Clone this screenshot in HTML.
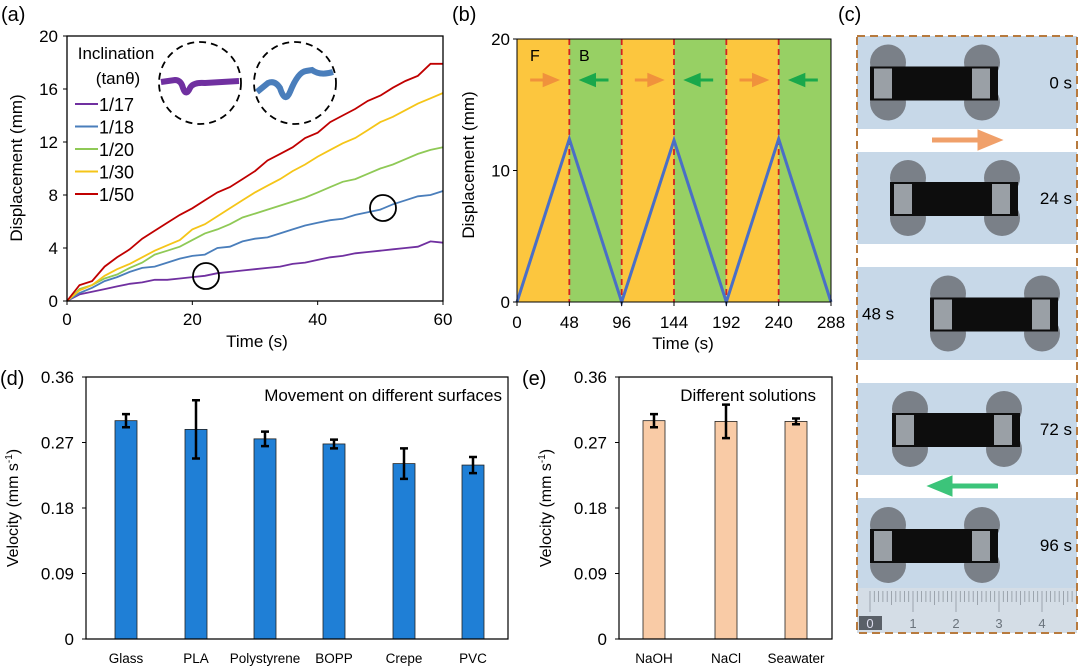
<!DOCTYPE html>
<html><head><meta charset="utf-8"><style>
html,body{margin:0;padding:0;background:#fff;}
svg{display:block;font-family:"Liberation Sans",Arial,sans-serif;}
</style></head><body>
<svg id="fig" width="1080" height="672" viewBox="0 0 1080 672" xmlns="http://www.w3.org/2000/svg">
<g id="pa"></g>
<g id="pb"></g>
<g id="pc"></g>
<g id="pd"></g>
<g id="pe"></g>
</svg>
<script>
// ---- Panel (a) data ----
const aTimes = [0,2,4,6,8,10,12,14,16,18,20,22,24,26,28,30,32,34,36,38,40,42,44,46,48,50,52,54,56,58,60];
const a117 = [0,0.5,0.7,0.9,1.1,1.3,1.4,1.6,1.6,1.7,1.8,1.9,2.1,2.2,2.3,2.4,2.5,2.6,2.8,2.9,3.1,3.3,3.4,3.6,3.7,3.8,3.9,4.0,4.1,4.5,4.4];
const a118 = [0,0.6,1.0,1.5,1.8,2.2,2.5,2.6,2.9,3.2,3.4,3.5,4.0,4.1,4.5,4.7,4.8,5.1,5.4,5.7,5.9,6.1,6.2,6.5,6.7,6.9,7.3,7.6,7.9,8.0,8.3];
const a120 = [0,0.9,1.2,1.7,2.0,2.5,2.9,3.5,3.8,4.1,4.6,5.1,5.4,5.8,6.3,6.6,6.9,7.2,7.5,7.8,8.2,8.6,9.0,9.2,9.6,10.0,10.3,10.7,11.1,11.4,11.6];
const a130 = [0,0.8,1.2,1.9,2.4,2.8,3.3,3.8,4.2,4.6,5.4,5.8,6.4,7.0,7.6,8.2,8.7,9.2,9.8,10.3,10.9,11.4,11.9,12.3,12.9,13.5,13.9,14.4,14.9,15.3,15.7];
const a150 = [0,1.2,1.5,2.6,3.3,3.9,4.7,5.3,5.9,6.5,7.0,7.6,8.2,8.6,9.2,9.8,10.6,11.1,11.6,12.3,12.7,13.5,14.0,14.5,15.1,15.5,16.1,16.6,17.0,17.9,17.9];
const aLabels = ["1/17","1/18","1/20","1/30","1/50"];
const aXTicks = [0,20,40,60];
const aYTicks = [0,4,8,12,16,20];
// ---- Panel (b) data ----
const bTimes = [0,48,96,144,192,240,288];
const bDisp = [0,12.4,0,12.3,0,12.4,0];
const bXTicks = [0,48,96,144,192,240,288];
const bYTicks = [0,10,20];
// ---- Panel (d) data ----
const dCats = ["Glass","PLA","Polystyrene","BOPP","Crepe","PVC"];
const dVals = [0.300,0.288,0.275,0.268,0.241,0.239];
const dErrs = [0.009,0.040,0.010,0.006,0.021,0.011];
const vTicks = [0,0.09,0.18,0.27,0.36];
const vTickLabels = ["0","0.09","0.18","0.27","0.36"];
// ---- Panel (e) data ----
const eCats = ["NaOH","NaCl","Seawater"];
const eVals = [0.300,0.299,0.299];
const eErrs = [0.009,0.023,0.004];

const NS="http://www.w3.org/2000/svg";
function mk(parent,tag,attrs,text){const e=document.createElementNS(NS,tag);for(const k in attrs)e.setAttribute(k,attrs[k]);if(text!==undefined)e.textContent=text;parent.appendChild(e);return e;}
function lin(d0,d1,r0,r1){return v=>r0+(v-d0)/(d1-d0)*(r1-r0);}

// ===== Panel A =====
(function(){
const g=document.getElementById('pa');
const X=lin(0,60,67,443),Y=lin(0,20,301,36);
let t=mk(g,'text',{x:1,y:21,'font-size':20});t.textContent='(a)';


const colors=["#7030a0","#4a7ebb","#8fc956","#f5c518","#c00000"];
const series=[a117,a118,a120,a130,a150];
series.forEach((s,i)=>{
  const pts=s.map((v,j)=>X(aTimes[j]).toFixed(1)+','+Y(v).toFixed(1)).join(' ');
  const p=mk(g,'polyline',{points:pts,fill:'none',stroke:colors[i],'stroke-width':1.8});
  
  
});
const fr=mk(g,'rect',{x:67,y:36,width:376,height:265,fill:'none',stroke:'#000','stroke-width':1.3});


aXTicks.forEach(v=>{mk(g,'line',{x1:X(v),x2:X(v),y1:301,y2:305,stroke:'#000'});
  const l=mk(g,'text',{x:X(v),y:325,'font-size':17,'text-anchor':'middle'},v);
  
  });
aYTicks.forEach(v=>{mk(g,'line',{x1:63,x2:67,y1:Y(v),y2:Y(v),stroke:'#000'});
  const l=mk(g,'text',{x:58,y:Y(v)+6,'font-size':17,'text-anchor':'end'},v);
  
  });
let xt=mk(g,'text',{x:257,y:347,'font-size':17,'text-anchor':'middle'},'Time (s)');


let yt=mk(g,'text',{x:0,y:0,'font-size':17,'text-anchor':'middle',transform:'translate(22,168) rotate(-90)'},'Displacement (mm)');


mk(g,'text',{x:116,y:59,'font-size':17,'text-anchor':'middle'},'Inclination');
mk(g,'text',{x:118,y:84,'font-size':17,'text-anchor':'middle'},'(tanθ)');
aLabels.forEach((lab,i)=>{const y=104+i*22.5;
  const e=mk(g,'g',{});
  
  
  mk(e,'line',{x1:75,x2:98,y1:y,y2:y,stroke:colors[i],'stroke-width':2});
  mk(e,'text',{x:99,y:y+7,'font-size':18},lab);});
mk(g,'circle',{cx:200,cy:83,r:41,fill:'none',stroke:'#000','stroke-width':1.8,'stroke-dasharray':'7,5'});
mk(g,'circle',{cx:295,cy:83,r:41,fill:'none',stroke:'#000','stroke-width':1.8,'stroke-dasharray':'7,5'});
mk(g,'path',{d:'M161,82 L175,80 Q181,80 183,88 Q186,97 190,88 Q193,82 205,83 L239,81',fill:'none',stroke:'#7030a0','stroke-width':6});
mk(g,'path',{d:'M257,92 L268,83 Q275,80 280,88 Q285,104 290,92 Q298,72 306,71 L312,70 Q320,76 333,72',fill:'none',stroke:'#4a7ebb','stroke-width':6});
mk(g,'circle',{cx:206,cy:276,r:13,fill:'none',stroke:'#000','stroke-width':1.8});
mk(g,'circle',{cx:383,cy:208,r:13,fill:'none',stroke:'#000','stroke-width':1.8});
})();

// ===== Panel B =====
(function(){
const g=document.getElementById('pb');
const X=lin(0,288,517,831),Y=lin(0,20,302,39);
let t=mk(g,'text',{x:452,y:21,'font-size':20},'(b)');


for(let i=0;i<bTimes.length-1;i++){
  const r=mk(g,'rect',{x:X(bTimes[i]),y:39,width:X(bTimes[i+1])-X(bTimes[i]),height:263,fill:i%2==0?'#fcc63e':'#97d064'});
  
  
  const cx=(X(bTimes[i])+X(bTimes[i+1]))/2, ay=80;
  if(i%2==0) mk(g,'path',{d:`M${cx-13},${ay} h16 M${cx+1},${ay-5} l12,5 l-12,5 z`,stroke:'#f0923c','stroke-width':3,fill:'#f0923c'});
  else mk(g,'path',{d:`M${cx+13},${ay} h-16 M${cx-1},${ay-5} l-12,5 l12,5 z`,stroke:'#1aa84b','stroke-width':3,fill:'#1aa84b'});
}
mk(g,'text',{x:530,y:61,'font-size':16},'F');
mk(g,'text',{x:579,y:61,'font-size':16},'B');
for(let i=1;i<bTimes.length-1;i++) mk(g,'line',{x1:X(bTimes[i]),x2:X(bTimes[i]),y1:39,y2:302,stroke:'#d42020','stroke-width':1.8,'stroke-dasharray':'6,4'});
const pts=bTimes.map((v,j)=>X(v)+','+Y(bDisp[j])).join(' ');
const p=mk(g,'polyline',{points:pts,fill:'none',stroke:'#4a6fc6','stroke-width':3});


mk(g,'rect',{x:517,y:39,width:314,height:263,fill:'none',stroke:'#000','stroke-width':1});
bXTicks.forEach(v=>{mk(g,'line',{x1:X(v),x2:X(v),y1:302,y2:306,stroke:'#000'});
  const l=mk(g,'text',{x:X(v),y:328,'font-size':17,'text-anchor':'middle'},v);
  
  });
bYTicks.forEach(v=>{mk(g,'line',{x1:513,x2:517,y1:Y(v),y2:Y(v),stroke:'#000'});
  const l=mk(g,'text',{x:510,y:Y(v)+6,'font-size':17,'text-anchor':'end'},v);
  
  });
let xt=mk(g,'text',{x:683,y:349,'font-size':17,'text-anchor':'middle'},'Time (s)');


let yt=mk(g,'text',{x:0,y:0,'font-size':17,'text-anchor':'middle',transform:'translate(474,165) rotate(-90)'},'Displacement (mm)');


})();

// ===== Panel C =====
(function(){
const g=document.getElementById('pc');
let t=mk(g,'text',{x:838,y:21,'font-size':20},'(c)');


const strips=[[36,129,'0 s',0,1],[152,244,'24 s',20,1],[267,360,'48 s',60,0],[383,475,'72 s',22,1],[498,633,'96 s',0,1]];
strips.forEach((s,i)=>{
  const r=mk(g,'rect',{x:857,y:s[0],width:220,height:s[1]-s[0],fill:'#c7d8e8'});
  
  
  const cy=i==4?545:(s[0]+s[1])/2, x0=870+s[3];
  [[x0+18,cy-20],[x0+18,cy+20],[x0+112,cy-20],[x0+112,cy+20]].forEach(c=>mk(g,'circle',{cx:c[0],cy:c[1],r:18,fill:'#7a8088'}));
  mk(g,'rect',{x:x0,y:cy-16,width:128,height:34,fill:'#0d0d0d'});
  mk(g,'rect',{x:x0+4,y:cy-14,width:18,height:30,fill:'#9aa0a6'});
  mk(g,'rect',{x:x0+102,y:cy-14,width:18,height:30,fill:'#9aa0a6'});
  const lx=s[4]?1072:862, anc=s[4]?'end':'start';
  const tl=mk(g,'text',{x:lx,y:cy+6,'font-size':17,'text-anchor':anc},s[2]);
  
  
});
mk(g,'path',{d:'M932,140 h48 M980,133 l17,7 l-17,7 z',stroke:'#f0a06a','stroke-width':5,fill:'#f0a06a'});
mk(g,'path',{d:'M998,486 h-48 M950,479 l-17,7 l17,7 z',stroke:'#3cc47a','stroke-width':5,fill:'#3cc47a'});
mk(g,'rect',{x:857,y:588,width:220,height:45,fill:'#d4dde6'});
for(let i=0;i<=50;i++){const x=870+i*4.3;mk(g,'line',{x1:x,x2:x,y1:591,y2:i%10==0?612:(i%5==0?605:602),stroke:'#8e979f','stroke-width':0.8});}
mk(g,'rect',{x:859,y:616,width:23,height:14,fill:'#5a6068'});
['0','1','2','3','4'].forEach((n,i)=>mk(g,'text',{x:870+i*43,y:628,'font-size':13,'text-anchor':'middle',fill:i==0?'#dde':'#6a737c'},n));
const b=mk(g,'rect',{x:857,y:36,width:220,height:597,fill:'none',stroke:'#b77a3e','stroke-width':2,'stroke-dasharray':'8,5'});


})();

// ===== Bar panels =====
function bars(g,cats,vals,errs,x0,x1,centers,color,title,tx,label,lx){
const Y=lin(0,0.36,639,377);
let t=mk(g,'text',{x:lx,y:385,'font-size':20},label);


cats.forEach((c,i)=>{
  const cx=centers[i],bw=22;
  const r=mk(g,'rect',{x:cx-bw/2,y:Y(vals[i]),width:bw,height:639-Y(vals[i]),fill:color,stroke:'#222','stroke-width':0.8});
  
  
  const e=mk(g,'path',{d:`M${cx},${Y(vals[i]+errs[i])} V${Y(vals[i]-errs[i])} M${cx-4},${Y(vals[i]+errs[i])} h8 M${cx-4},${Y(vals[i]-errs[i])} h8`,stroke:'#000','stroke-width':2.5,fill:'none'});
  
  
  const l=mk(g,'text',{x:cx,y:663,'font-size':13.5,'text-anchor':'middle'},c);
  
  
});
mk(g,'path',{d:`M${x0},377 H${x1} V639 H${x0} Z`,fill:'none',stroke:'#000','stroke-width':1.2});
vTicks.forEach((v,i)=>{mk(g,'line',{x1:x0-4,x2:x0,y1:Y(v),y2:Y(v),stroke:'#000'});
  const l=mk(g,'text',{x:x0-12,y:Y(v)+6,'font-size':17,'text-anchor':'end'},vTickLabels[i]);
  
  });
const yt=mk(g,'text',{x:0,y:0,'font-size':16,'text-anchor':'middle',transform:`translate(${x0-68},508) rotate(-90)`});
yt.innerHTML='Velocity (mm s<tspan dy="-6" font-size="10">-1</tspan><tspan dy="6">)</tspan>';


const tt=mk(g,'text',{x:tx,y:401,'font-size':17,'text-anchor':'end'},title);


}
bars(document.getElementById('pd'),dCats,dVals,dErrs,86,508,[126,196,265,334,404,473],'#1f7fd6','Movement on different surfaces',502,'(d)',0);
bars(document.getElementById('pe'),eCats,eVals,eErrs,619,832,[654,726,796],'#f9cba6','Different solutions',816,'(e)',522);
</script>
</body></html>
